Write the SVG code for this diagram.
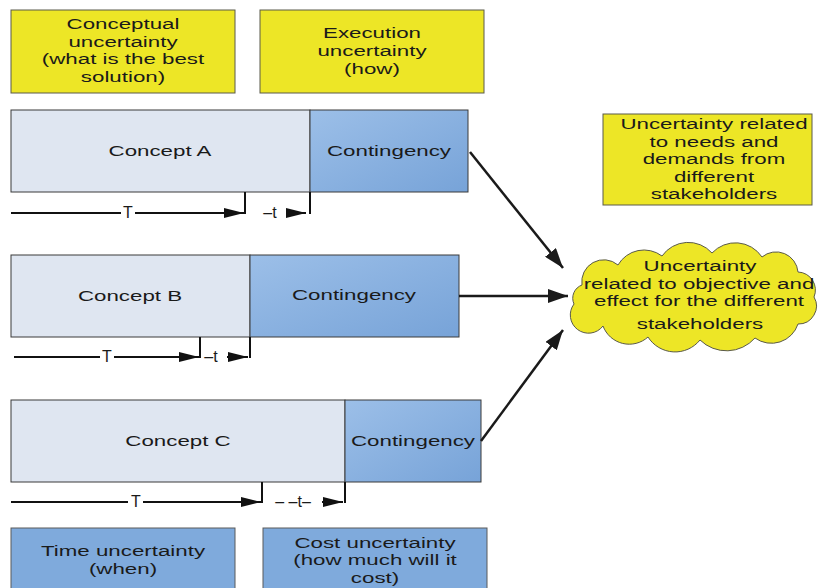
<svg xmlns="http://www.w3.org/2000/svg" width="822" height="588" viewBox="0 0 822 588">
<style>
text{font-family:"Liberation Sans",Arial,sans-serif;font-size:15.5px;fill:#1a1a1a;text-anchor:middle}
.y{fill:#ede626;stroke:#5a5a4a;stroke-width:1}
.c{fill:#dfe6f1;stroke:#3a3a3a;stroke-width:1}
.k{fill:url(#g);stroke:#3a3a3a;stroke-width:1}
.b{fill:#7faadc;stroke:#5a5a5a;stroke-width:1}
.tl{stroke:#111;stroke-width:2;fill:none}
.ar{stroke:#1a1a1a;stroke-width:2.5;fill:none;marker-end:url(#big)}
.n{font-size:16px}
</style>
<defs>
<linearGradient id="g" x1="0" y1="0" x2="1" y2="1">
<stop offset="0" stop-color="#9cbfe8"/>
<stop offset="1" stop-color="#77a3d8"/>
</linearGradient>
<marker id="big" viewBox="0 0 10 10" refX="10" refY="5" markerWidth="20" markerHeight="14" markerUnits="userSpaceOnUse" orient="auto" preserveAspectRatio="none">
<path d="M0,0 L10,5 L0,10 Z" fill="#1a1a1a"/>
</marker>
<marker id="sm" viewBox="0 0 10 10" refX="10" refY="5" markerWidth="20" markerHeight="10" markerUnits="userSpaceOnUse" orient="auto" preserveAspectRatio="none">
<path d="M0,0 L10,5 L0,10 Z" fill="#111"/>
</marker>
</defs>

<g id="conceptual">
<rect class="y" x="11" y="10" width="224" height="83"/>
<text transform="translate(123 29) scale(1.44 1)">Conceptual</text>
<text transform="translate(123 47) scale(1.44 1)">uncertainty</text>
<text transform="translate(123 64) scale(1.44 1)">(what is the best</text>
<text transform="translate(123 82) scale(1.44 1)">solution)</text>
</g>
<g id="execution">
<rect class="y" x="260" y="10" width="224" height="83"/>
<text transform="translate(372 38) scale(1.44 1)">Execution</text>
<text transform="translate(372 56) scale(1.44 1)">uncertainty</text>
<text transform="translate(372 74) scale(1.44 1)">(how)</text>
</g>
<g id="needs">
<rect class="y" x="603" y="114" width="209" height="91"/>
<text transform="translate(714 129) scale(1.44 1)">Uncertainty related</text>
<text transform="translate(714 147) scale(1.44 1)">to needs and</text>
<text transform="translate(714 164) scale(1.44 1)">demands from</text>
<text transform="translate(714 182) scale(1.44 1)">different</text>
<text transform="translate(714 199) scale(1.44 1)">stakeholders</text>
</g>

<g id="conceptA">
<rect class="c" x="11" y="110" width="299" height="82"/>
<text transform="translate(160 156) scale(1.44 1)">Concept A</text>
</g>
<g id="contA">
<rect class="k" x="310" y="110" width="158" height="82"/>
<text transform="translate(389 156) scale(1.44 1)">Contingency</text>
</g>
<g id="conceptB">
<rect class="c" x="11" y="255" width="239" height="82"/>
<text transform="translate(130 301) scale(1.44 1)">Concept B</text>
</g>
<g id="contB">
<rect class="k" x="250" y="255" width="209" height="82"/>
<text transform="translate(354 300) scale(1.44 1)">Contingency</text>
</g>
<g id="conceptC">
<rect class="c" x="11" y="400" width="334" height="82"/>
<text transform="translate(178 446) scale(1.44 1)">Concept C</text>
</g>
<g id="contC">
<rect class="k" x="345" y="400" width="136" height="82"/>
<text transform="translate(413 446) scale(1.44 1)">Contingency</text>
</g>

<g id="time">
<rect class="b" x="11" y="528" width="224" height="64"/>
<text transform="translate(123 556) scale(1.44 1)">Time uncertainty</text>
<text transform="translate(123 574) scale(1.44 1)">(when)</text>
</g>
<g id="cost">
<rect class="b" x="263" y="528" width="224" height="64"/>
<text transform="translate(375 548) scale(1.44 1)">Cost uncertainty</text>
<text transform="translate(375 565) scale(1.44 1)">(how much will it</text>
<text transform="translate(375 583) scale(1.44 1)">cost)</text>
</g>

<g id="stakeholders">
<path class="y" d="M582,285 A22 22 0 0 1 618,265 A30 30 0 0 1 662,256 A32 32 0 0 1 712,253 A32 32 0 0 1 762,257 A22 22 0 0 1 798,272 A18 18 0 0 1 814,297 A18 18 0 0 1 798,324 A28 28 0 0 1 755,338 A38 38 0 0 1 700,340 A32 32 0 0 1 648,337 A28 28 0 0 1 603,326 A18 18 0 0 1 574,304 A14 14 0 0 1 582,285 Z" stroke="#333" stroke-width="1.2"/>
<text transform="translate(700 271) scale(1.44 1)">Uncertainty</text>
<text transform="translate(699 289) scale(1.44 1)">related to objective and</text>
<text transform="translate(699 306) scale(1.44 1)">effect for the different</text>
<text transform="translate(700 329) scale(1.44 1)">stakeholders</text>
</g>

<g id="connectors">
<line class="ar" x1="470" y1="152" x2="563" y2="268"/>
<line class="ar" x1="459" y1="296" x2="568" y2="296"/>
<line class="ar" x1="481" y1="441" x2="563" y2="330"/>

<line class="tl" x1="11" y1="213" x2="121" y2="213"/>
<line class="tl" x1="135" y1="213" x2="244" y2="213" marker-end="url(#sm)"/>
<line class="tl" x1="245" y1="192" x2="245" y2="214"/>
<line class="tl" x1="287" y1="213" x2="306" y2="213" marker-end="url(#sm)"/>
<line class="tl" x1="310" y1="192" x2="310" y2="214"/>
<text class="n" x="128" y="218">T</text>
<text class="n" x="270" y="218">–t</text>

<line class="tl" x1="14" y1="357" x2="100" y2="357"/>
<line class="tl" x1="114" y1="357" x2="199" y2="357" marker-end="url(#sm)"/>
<line class="tl" x1="200" y1="337" x2="200" y2="358"/>
<line class="tl" x1="227" y1="357" x2="248" y2="357" marker-end="url(#sm)"/>
<line class="tl" x1="250" y1="337" x2="250" y2="358"/>
<text class="n" x="107" y="362">T</text>
<text class="n" x="211" y="362">–t</text>

<line class="tl" x1="11" y1="502" x2="128" y2="502"/>
<line class="tl" x1="143" y1="502" x2="261" y2="502" marker-end="url(#sm)"/>
<line class="tl" x1="262" y1="482" x2="262" y2="503"/>
<line class="tl" x1="322" y1="502" x2="343" y2="502" marker-end="url(#sm)"/>
<line class="tl" x1="345" y1="482" x2="345" y2="503"/>
<text class="n" x="136" y="507">T</text>
<text class="n" x="293" y="507">– –t–</text>
</g>
</svg>
